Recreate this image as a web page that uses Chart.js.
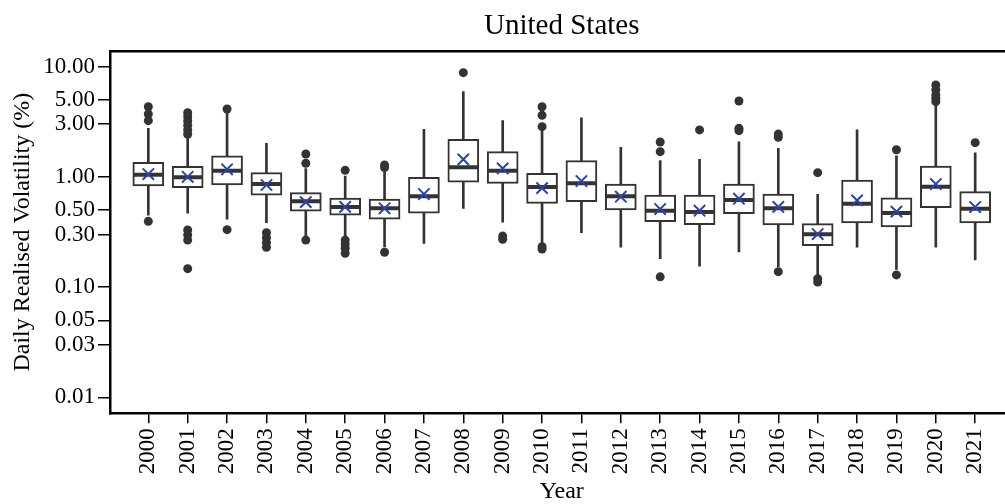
<!DOCTYPE html>
<html><head><meta charset="utf-8">
<script src="https://cdn.jsdelivr.net/npm/chart.js@4.4.1/dist/chart.umd.min.js"></script>
<style>html,body{margin:0;padding:0;overflow:hidden;background:#fff;width:1005px;height:504px}canvas{display:block}</style>
</head><body><canvas id="c" width="1032" height="504" style="width:1032px;height:504px"></canvas>
<script>
const years = [2000,2001,2002,2003,2004,2005,2006,2007,2008,2009,2010,2011,2012,2013,2014,2015,2016,2017,2018,2019,2020,2021];
const whiskerLow  = [0.45,0.467,0.414,0.384,0.286,0.286,0.232,0.249,0.518,0.387,0.246,0.311,0.23,0.181,0.155,0.209,0.153,0.124,0.23,0.145,0.23,0.176];
const q1          = [0.825,0.796,0.843,0.68,0.487,0.45,0.414,0.467,0.892,0.873,0.575,0.595,0.50,0.392,0.368,0.463,0.366,0.237,0.381,0.351,0.525,0.381];
const median      = [1.045,0.99,1.136,0.86,0.60,0.532,0.518,0.666,1.22,1.136,0.808,0.873,0.666,0.493,0.48,0.616,0.518,0.301,0.57,0.47,0.813,0.514];
const q3          = [1.35,1.245,1.553,1.09,0.718,0.642,0.629,0.99,2.19,1.69,1.076,1.40,0.86,0.684,0.684,0.86,0.698,0.376,0.935,0.646,1.25,0.733];
const whiskerHigh = [2.75,2.23,3.85,2.01,1.19,1.017,1.11,2.70,5.91,3.23,2.66,3.43,1.85,1.40,1.44,2.07,1.81,0.694,2.67,1.553,4.48,1.65];
const mean        = [1.06,1.0,1.17,0.843,0.59,0.534,0.518,0.698,1.44,1.19,0.79,0.916,0.66,0.51,0.493,0.633,0.534,0.303,0.612,0.483,0.86,0.532];
const outliers = [
  [4.32,3.71,3.23,0.395],
  [3.81,3.51,3.21,2.93,2.66,2.43,0.33,0.297,0.267,0.147],
  [4.12,0.332],
  [0.311,0.28,0.253,0.23],
  [1.61,1.326,0.267],
  [1.145,0.267,0.246,0.225,0.2025],
  [1.28,1.21,0.207],
  [],
  [8.79],
  [0.29,0.271],
  [4.32,3.61,2.85,0.232,0.2215],
  [],
  [],
  [2.07,1.69,0.124],
  [2.66],
  [4.87,2.75,2.62],
  [2.44,2.28,0.138],
  [1.09,0.119,0.111],
  [],
  [1.76,0.129],
  [6.80,6.12,5.52,5.15,4.80],
  [2.04]
];
const yTicks = [0.01,0.03,0.05,0.1,0.3,0.5,1,3,5,10];

const ink = '#333333';
const serif = "'Liberation Serif','Times New Roman',serif";
const xMin = 1999.027, xMax = 2021.973;

const whiskerData = years.map((y,i)=>({x:y, y:[whiskerLow[i], whiskerHigh[i]]}));
const boxData = years.map((y,i)=>({x:y, y:[q1[i], q3[i]]}));
const medData = years.map((y,i)=>({x:y, y:median[i]}));
const meanData = years.map((y,i)=>({x:y, y:mean[i]}));
const outData = [];
years.forEach((y,i)=>outliers[i].forEach(v=>outData.push({x:y, y:v})));

new Chart(document.getElementById('c'), {
  type: 'bar',
  data: { datasets: [
    {type:'bar', data:whiskerData, backgroundColor:ink, borderWidth:0, barThickness:2, grouped:false, order:5},
    {type:'bar', data:boxData, backgroundColor:'#ffffff', borderColor:ink, borderWidth:2, borderSkipped:false, barThickness:31, grouped:false, order:4},
    {type:'scatter', data:medData, pointStyle:'line', pointRadius:14.5, borderWidth:4, borderColor:ink, order:3},
    {type:'scatter', data:outData, pointStyle:'circle', pointRadius:4.5, backgroundColor:ink, borderColor:ink, borderWidth:0, order:2},
    {type:'scatter', data:meanData, pointStyle:'crossRot', pointRadius:8, borderColor:'#2e43a8', borderWidth:2, order:1}
  ]},
  options: {
    responsive:false, animation:false, events:[],
    layout:{padding:0},
    plugins:{ legend:{display:false}, tooltip:{enabled:false}, title:{display:false} },
    scales:{
      x:{
        type:'linear', position:'bottom', min:xMin, max:xMax, offset:false,
        afterBuildTicks:s=>{ s.ticks = years.map(v=>({value:v})); },
        ticks:{autoSkip:false, maxRotation:90, minRotation:90, color:'#000', font:{family:serif, size:23}, padding:5, callback:v=>String(v)},
        grid:{drawOnChartArea:false, offset:false, color:'#000', lineWidth:1.5, tickLength:10},
        border:{color:'#000', width:2.5},
        title:{display:true, text:'Year', color:'#000', font:{family:serif, size:24, lineHeight:1}, padding:0},
        afterFit:s=>{ s.height = 90.7; s.paddingLeft = 0; s.paddingRight = 0; }
      },
      x2:{
        type:'linear', position:'top', min:xMin, max:xMax, offset:false,
        ticks:{display:false}, grid:{display:false, drawTicks:false},
        border:{display:true, color:'#000', width:2.5},
        title:{display:true, text:'United States', color:'#000', font:{family:serif, size:29, weight:'normal', lineHeight:1.2}, padding:{top:9, bottom:0}},
        afterFit:s=>{ s.height = 51; s.paddingLeft = 0; s.paddingRight = 0; }
      },
      y:{
        type:'logarithmic', min:0.00718, max:13.82,
        afterBuildTicks:s=>{ s.ticks = yTicks.map(v=>({value:v})); },
        ticks:{autoSkip:false, color:'#000', font:{family:serif, size:23}, padding:3, callback:v=>Number(v).toFixed(2)},
        grid:{drawOnChartArea:false, color:'#000', lineWidth:1.5, tickLength:12},
        border:{color:'#000', width:2.5},
        title:{display:true, text:'Daily Realised Volatility (%)', color:'#000', font:{family:serif, size:24, lineHeight:1.2}, padding:{top:8.6, bottom:0}},
        afterFit:s=>{ s.width = 110; }
      }
    }
  }
});
</script>
</body></html>
